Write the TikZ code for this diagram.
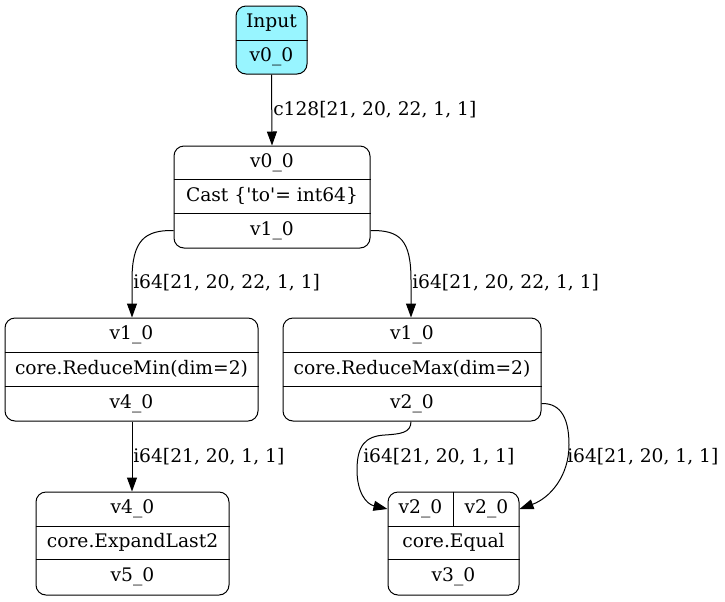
\documentclass[tikz,border=0pt]{standalone}
\usepackage{fontspec}
\setmainfont{DejaVu Serif}[Ligatures=TeXOff]
\usetikzlibrary{arrows.meta}
\definecolor{inputcyan}{HTML}{98F5FF}
\begin{document}
\begin{tikzpicture}[x=0.75pt,y=-0.75pt,
  font=\fontsize{14}{16}\selectfont,
  rec/.style={draw, rounded corners=7.5pt, line width=0.75pt, inner sep=0, minimum height=77.25pt},
  cell/.style={inner sep=0, anchor=center},
  sep/.style={line width=0.75pt},
  edge/.style={line width=0.75pt, -{Triangle[length=10.5pt,width=7.5pt]}},
  lab/.style={anchor=west, inner sep=0}]
\useasboundingbox (0,0) rectangle (725,601);

% Input
\node[rec, fill=inputcyan, minimum width=53.25pt, minimum height=51pt] (in) at (271.5,40) {};
\node[cell] (in1) at (271.5,23) {Input};
\node[cell] (in2) at (271.5,57) {v0\_0};
\draw[sep] (in.west |- 0,40) -- (in.east |- 0,40);

% Cast
\node[rec, minimum width=147pt, minimum height=76.5pt] (cast) at (272,197) {};
\node[cell] (cast1) at (272,162.5) {v0\_0};
\node[cell] (cast2) at (272,196) {Cast \{'to'= int64\}};
\node[cell] (cast3) at (272,230.5) {v1\_0};
\draw[sep] (cast.west |- 0,179) -- (cast.east |- 0,179);
\draw[sep] (cast.west |- 0,213) -- (cast.east |- 0,213);

% ReduceMin
\node[rec, minimum width=189.75pt] (rmin) at (131.5,369.5) {};
\node[cell] (rmin1) at (131.5,335) {v1\_0};
\node[cell] (rmin2) at (131.5,369) {core.ReduceMin(dim=2)};
\node[cell] (rmin3) at (131.5,403.5) {v4\_0};
\draw[sep] (rmin.west |- 0,352) -- (rmin.east |- 0,352);
\draw[sep] (rmin.west |- 0,386) -- (rmin.east |- 0,386);

% ReduceMax
\node[rec, minimum width=193.5pt] (rmax) at (412,369.5) {};
\node[cell] (rmax1) at (412,335) {v1\_0};
\node[cell] (rmax2) at (412,369) {core.ReduceMax(dim=2)};
\node[cell] (rmax3) at (412,403.5) {v2\_0};
\draw[sep] (rmax.west |- 0,352) -- (rmax.east |- 0,352);
\draw[sep] (rmax.west |- 0,386) -- (rmax.east |- 0,386);

% ExpandLast2
\node[rec, minimum width=144.75pt] (exp) at (132.5,543.5) {};
\node[cell] (exp1) at (132.5,509) {v4\_0};
\node[cell] (exp2) at (132.5,542.5) {core.ExpandLast2};
\node[cell] (exp3) at (132.5,577) {v5\_0};
\draw[sep] (exp.west |- 0,526) -- (exp.east |- 0,526);
\draw[sep] (exp.west |- 0,559) -- (exp.east |- 0,559);

% Equal
\node[rec, minimum width=98.25pt] (eq) at (453.5,543.5) {};
\node[cell] (eq1a) at (420.5,509) {v2\_0};
\node[cell] (eq1b) at (486.5,509) {v2\_0};
\node[cell] (eq2) at (453.5,542.5) {core.Equal};
\node[cell] (eq3) at (453.5,577) {v3\_0};
\draw[sep] (eq.west |- 0,526) -- (eq.east |- 0,526);
\draw[sep] (eq.west |- 0,559) -- (eq.east |- 0,559);
\draw[sep] (eq.north) -- (eq.north |- 0,526);

\coordinate (castL) at (cast.west |- cast3);
\coordinate (castR) at (cast.east |- cast3);
\coordinate (rmaxR) at (rmax.east |- rmax3);
\coordinate (eqL) at (eq.west |- eq1a);
\coordinate (eqR) at (eq.east |- eq1b);

% Edges
\draw[edge] (in.south) -- (cast.north);
\node[lab] at (273,110) {c128[21, 20, 22, 1, 1]};

\draw[edge] (castL) .. controls (145,230) and (132,240) .. (132,280) -- (rmin.north -| 132,0);
\node[lab] at (133,283) {i64[21, 20, 22, 1, 1]};

\draw[edge] (castR) .. controls (400,230) and (411,240) .. (411,280) -- (rmax.north -| 411,0);
\node[lab] at (412,283) {i64[21, 20, 22, 1, 1]};

\draw[edge] (rmin.south -| 132,0) -- (exp.north -| 132,0);
\node[lab] at (133,457) {i64[21, 20, 1, 1]};

\draw[edge] (rmax.south -| 411,0) .. controls (411,433) and (400,434) .. (385,435)
  .. controls (365,436) and (357,446) .. (357,470)
  .. controls (357,492) and (366,504) .. (eqL);
\node[lab] at (363,457) {i64[21, 20, 1, 1]};

\draw[edge] (rmaxR) .. controls (562,403) and (569,420) .. (569,445)
  .. controls (569,476) and (550,498) .. (eqR);
\node[lab] at (567,457) {i64[21, 20, 1, 1]};
\end{tikzpicture}
\end{document}
